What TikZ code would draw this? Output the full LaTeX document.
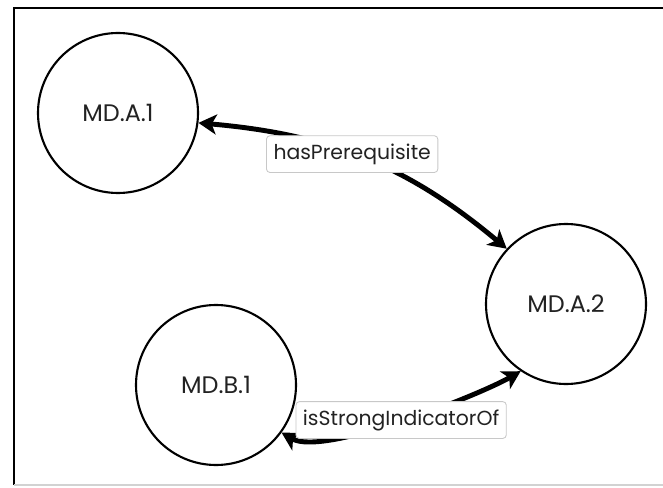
\documentclass[tikz,border=0pt]{standalone}
\usepackage{fontspec}
\setmainfont{Poppins}
\usepackage{xcolor}
\usepackage{tikz}
\usetikzlibrary{arrows.meta}
\definecolor{inkgray}{HTML}{222222}
\definecolor{boxline}{HTML}{C8C8C8}

\begin{document}
\begin{tikzpicture}[>={Stealth[length=4.5mm,width=5mm,inset=1.2mm]},
    concept/.style={circle,draw,line width=1.5pt,minimum size=4cm,inner sep=0pt,font=\fontsize{17}{20}\selectfont,text=inkgray},
    rel/.style={<->,line width=3.5pt,line cap=round},
    tag/.style={draw=boxline,fill=white,rounded corners=2.5pt,line width=0.6pt,font=\fontsize{14.5}{16}\selectfont,text=inkgray,inner xsep=5pt,minimum height=0.92cm}]
  \useasboundingbox (0,0) rectangle (16.575,12.175);
  \draw[line width=2pt] (16.575,11.975) -- (0.35,11.975) -- (0.35,0.05);
  \draw[gray!35,line width=0.8pt] (0.35,0.05) -- (16.575,0.05);
  \node[concept] (ma1) at (2.95,9.35) {MD.A.1};
  \node[concept] (ma2) at (14.15,4.575) {MD.A.2};
  \node[concept] (mb1) at (5.4,2.55) {MD.B.1};
  \draw[rel] (ma1.-7) to[out=-5,in=140] node[tag,pos=0.46] {hasPrerequisite} (ma2.137);
  \draw[rel] (mb1.-36) to[out=-30,in=210,looseness=0.5] node[tag] {isStrongIndicatorOf} (ma2.236);
\end{tikzpicture}
\end{document}
